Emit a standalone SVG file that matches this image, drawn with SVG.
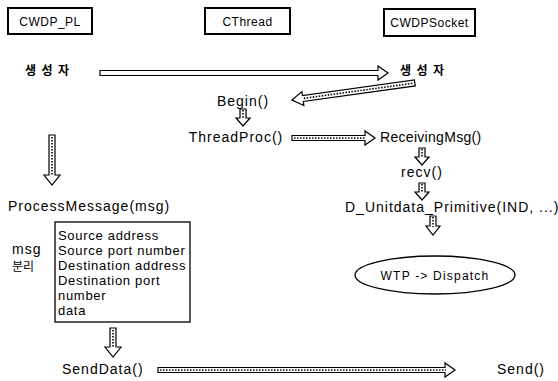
<svg xmlns="http://www.w3.org/2000/svg" width="558" height="381" viewBox="0 0 558 381">
<style>
text{font-family:"Liberation Sans","Noto Sans CJK KR",Arial,sans-serif;fill:#000}
.lbl{font-size:14px;letter-spacing:1px}
.box{fill:#fff;stroke:#000;stroke-width:2}
.small{font-size:12px;letter-spacing:0.5px}
.ell{font-size:12px;letter-spacing:1.2px}
.ko{font-size:12px;font-weight:bold;font-family:"Noto Sans CJK KR",sans-serif}
.arr{fill:#fff;stroke:#000;stroke-width:1.2;stroke-linejoin:miter}
.dots{fill:none;stroke:#000;stroke-width:1.6;stroke-dasharray:1.5 1.5}
.item{font-size:13px;letter-spacing:0.7px}
</style>
<rect width="558" height="381" fill="#fff"/>
<g id="cwdp_pl"><rect class="box" x="8" y="8" width="84" height="26"/><text class="small" x="50" y="25.5" text-anchor="middle">CWDP_PL</text></g>
<g id="cthread"><rect class="box" x="205" y="8" width="85" height="26"/><text class="small" x="247.5" y="25.5" text-anchor="middle">CThread</text></g>
<g id="cwdpsocket"><rect class="box" x="384" y="9" width="91" height="27"/><text class="small" x="429.5" y="27" text-anchor="middle">CWDPSocket</text></g>
<g id="ctor_left"><text class="ko" x="25" y="75" letter-spacing="5.5">생성자</text></g>
<g id="ctor_right"><text class="ko" x="400" y="75" letter-spacing="5.5">생성자</text></g>
<g id="begin"><text class="lbl" x="243" y="106" text-anchor="middle">Begin()</text></g>
<g id="threadproc"><text class="lbl" x="236" y="142" text-anchor="middle">ThreadProc()</text></g>
<g id="receivingmsg"><text class="lbl" x="380" y="142" style="letter-spacing:0.3px">ReceivingMsg()</text></g>
<g id="recv"><text class="lbl" x="422" y="177" text-anchor="middle">recv()</text></g>
<g id="unitdata"><text class="lbl" x="345" y="212">D_Unitdata_Primitive(IND, ...)</text></g>
<g id="dispatch"><ellipse cx="435" cy="275" rx="80" ry="19" fill="#fff" stroke="#000" stroke-width="1.3"/><text class="ell" x="435" y="279.5" text-anchor="middle">WTP -&gt; Dispatch</text></g>
<g id="processmessage"><text class="lbl" x="8" y="211">ProcessMessage(msg)</text></g>
<g id="msgsplit"><text class="lbl" x="12" y="254">msg</text><text class="ko" x="12" y="271" style="font-weight:normal">분리</text></g>
<g id="fields"><rect x="55" y="222" width="135" height="100" fill="#fff" stroke="#000" stroke-width="1.3"/>
<text class="item" x="58" y="240">Source address</text>
<text class="item" x="58" y="255">Source port number</text>
<text class="item" x="58" y="270">Destination address</text>
<text class="item" x="58" y="285">Destination port</text>
<text class="item" x="58" y="300">number</text>
<text class="item" x="58" y="315">data</text></g>
<g id="senddata"><text class="lbl" x="62" y="374">SendData()</text></g>
<g id="send"><text class="lbl" x="497" y="374">Send()</text></g>
<g id="connectors">
<path class="arr" d="M100,70.5 H378 V66 L388,73 L378,80 V75.5 H100 Z"/>
<g transform="translate(292,100) rotate(-7.9)"><path class="arr" d="M0,0 L11,-7 V-3 H124 V3 H11 V7 Z"/><path class="dots" d="M12,0 H122"/></g>
<g transform="translate(243,109)"><path class="arr" d="M-3,0 H3 V9 H7 L0,17 L-7,9 H-3 Z"/><path class="dots" d="M0,1 V10"/></g>
<path class="arr" d="M292,135.5 H365 V131 L375,138 L365,145 V140.5 H292 Z"/><path class="dots" d="M294,138 H365"/>
<g transform="translate(422,148)"><path class="arr" d="M-3,0 H3 V9 H7 L0,17 L-7,9 H-3 Z"/><path class="dots" d="M0,1 V10"/></g>
<g transform="translate(422,183)"><path class="arr" d="M-3,0 H3 V9 H7 L0,17 L-7,9 H-3 Z"/><path class="dots" d="M0,1 V10"/></g>
<g transform="translate(433,216)"><path class="arr" d="M-3,0 H3 V10 H7 L0,19 L-7,10 H-3 Z"/><path class="dots" d="M0,1 V11"/></g>
<path class="arr" d="M49,135 H55 V175 H60 L52,185 L44,175 H49 Z"/><path class="dots" d="M52,137 V176"/>
<g transform="translate(113,328)"><path class="arr" d="M-3,0 H3 V19 H8 L0,29 L-8,19 H-3 Z"/><path class="dots" d="M0,2 V20"/></g>
<path class="arr" d="M158,367.5 H445 V363 L455,370 L445,377 V372.5 H158 Z"/><path class="dots" d="M160,370 H446"/>
</g>
</svg>
